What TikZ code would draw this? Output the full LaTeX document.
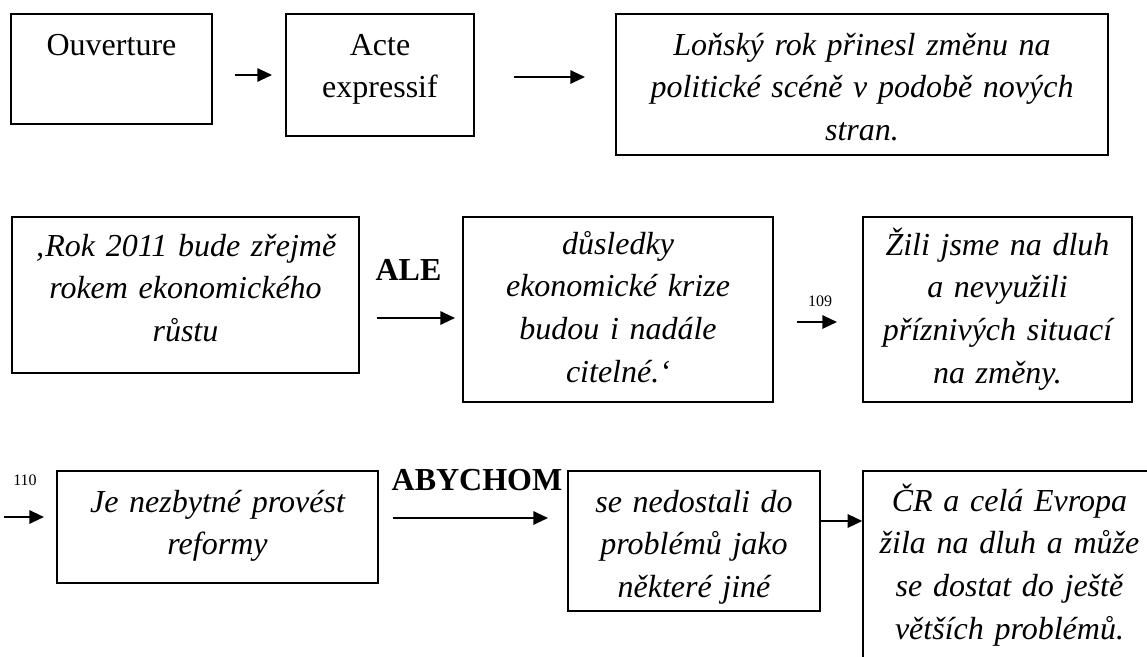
\documentclass[tikz,border=0pt]{standalone}
\usepackage{fontspec}
\setmainfont{Liberation Serif}
\usetikzlibrary{arrows.meta,fit}
\begin{document}
\begin{tikzpicture}[x=0.75pt,y=-0.75pt,
  box/.style={draw=black, line width=1pt, inner sep=0pt},
  txt/.style={font=\fontsize{24}{32}\selectfont, align=center, inner sep=0pt, anchor=base, text width=330pt},
  itxt/.style={txt, font=\fontsize{24}{32}\selectfont\itshape},
  conn/.style={-{Triangle[length=11pt,width=10pt]}, line width=1.5pt},
  lbl/.style={font=\fontsize{24}{32}\selectfont\bfseries, inner sep=0pt, anchor=base},
  num/.style={font=\fontsize{12}{14}\selectfont, inner sep=0pt, anchor=base}]
\path[fill=white, use as bounding box] (0,0) rectangle (1147,657);

% boxes
\node[box, fit={(11,14) (212,124)}] (b1) {};
\node[box, fit={(286,14) (474,136)}] (b2) {};
\node[box, fit={(616,14) (1108,155)}] (b3) {};
\node[box, fit={(12,217) (359,373)}] (b4) {};
\node[box, fit={(463,217) (773,402)}] (b5) {};
\node[box, fit={(863,217) (1132,402)}] (b6) {};
\node[box, fit={(57,471) (378,583)}] (b7) {};
\node[box, fit={(568,471) (820,611)}] (b8) {};
\node[box, fit={(863,471) (1156,680)}] (b9) {};

% texts
\node[txt] (t1) at (111.5,55) {Ouverture};
\node[txt] (t2) at (380,55) {Acte\\expressif};
\node[itxt] (t3) at (862,55) {Loňský rok přinesl změnu na\\politické scéně v podobě nových\\stran.};
\node[itxt] (t4) at (185.5,256) {‚Rok 2011 bude zřejmě\\rokem ekonomického\\růstu};
\node[itxt] (t5) at (618,254) {důsledky\\ekonomické krize\\budou i nadále\\citelné.‘};
\node[itxt] (t6) at (997.5,255) {Žili jsme na dluh\\a nevyužili\\příznivých situací\\na změny.};
\node[itxt] (t7) at (217.5,512) {Je nezbytné provést\\reformy};
\node[itxt] (t8) at (694,512) {se nedostali do\\problémů jako\\některé jiné};
\node[itxt] (t9) at (1009.5,511) {ČR a celá Evropa\\žila na dluh a může\\se dostat do ještě\\větších problémů.};

% labels
\node[lbl] (ale) at (408.5,280) {ALE};
\node[lbl] (aby) at (477,490) {ABYCHOM};
\node[num] (n109) at (820,306) {109};
\node[num] (n110) at (25,485) {110};

% arrow end points
\coordinate (a1s) at (235,75);  \coordinate (a1e) at (272,75);
\coordinate (a2s) at (514,77);  \coordinate (a2e) at (585,77);
\coordinate (a3s) at (377,318); \coordinate (a3e) at (455,318);
\coordinate (a4s) at (797,322); \coordinate (a4e) at (837,322);
\coordinate (a5s) at (4,517);   \coordinate (a5e) at (44,517);
\coordinate (a6s) at (393,518); \coordinate (a6e) at (548,518);
\coordinate (r7) at (0,521);

\draw[conn] (a1s) -- (a1e);
\draw[conn] (a2s) -- (a2e);
\draw[conn] (a3s) -- (a3e);
\draw[conn] (a4s) -- (a4e);
\draw[conn] (a5s) -- (a5e);
\draw[conn] (a6s) -- (a6e);
\draw[conn] (b8.east |- r7) -- (b9.west |- r7);
\end{tikzpicture}
\end{document}
